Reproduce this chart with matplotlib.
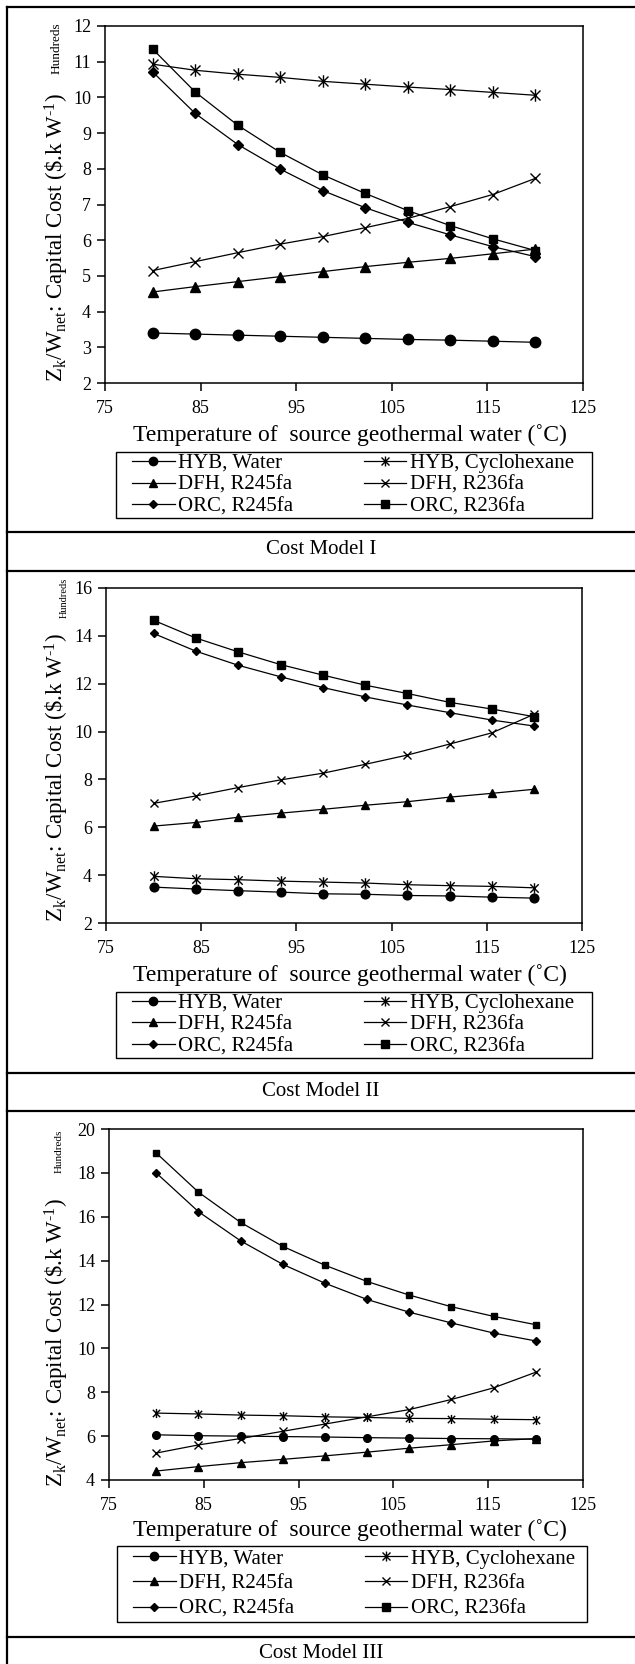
import numpy as np
import matplotlib
matplotlib.use("Agg")
from matplotlib import pyplot as plt
from matplotlib.lines import Line2D
from matplotlib.patches import Rectangle
from matplotlib.path import Path

plt.rcParams["font.family"] = ["Liberation Serif", "DejaVu Serif"]
plt.rcParams["mathtext.fontset"] = "custom"
plt.rcParams["mathtext.rm"] = "Liberation Serif"
plt.rcParams["mathtext.it"] = "Liberation Serif:italic"

# source water temperature (C)
temp = [80, 84.44, 88.89, 93.33, 97.78, 102.22, 106.67, 111.11, 115.56, 120]

labels = ["HYB, Water", "HYB, Cyclohexane", "DFH, R245fa",
          "DFH, R236fa", "ORC, R245fa", "ORC, R236fa"]

# Cost Model I (hundreds $/kW)
m1_hyb_water = [3.40, 3.37, 3.34, 3.31, 3.28, 3.25, 3.22, 3.20, 3.17, 3.14]
m1_hyb_cyclo = [10.93, 10.76, 10.65, 10.56, 10.45, 10.37, 10.29, 10.22, 10.14, 10.06]
m1_dfh_245 = [4.55, 4.70, 4.84, 4.98, 5.12, 5.26, 5.38, 5.49, 5.62, 5.75]
m1_dfh_236 = [5.15, 5.40, 5.65, 5.89, 6.10, 6.35, 6.61, 6.94, 7.28, 7.73]
m1_orc_245 = [10.71, 9.55, 8.68, 7.99, 7.39, 6.91, 6.50, 6.15, 5.82, 5.54]
m1_orc_236 = [11.35, 10.15, 9.22, 8.46, 7.83, 7.31, 6.83, 6.41, 6.04, 5.71]

# Cost Model II
m2_hyb_water = [3.50, 3.42, 3.35, 3.29, 3.22, 3.20, 3.15, 3.13, 3.08, 3.04]
m2_hyb_cyclo = [3.95, 3.85, 3.81, 3.75, 3.71, 3.67, 3.60, 3.56, 3.53, 3.47]
m2_dfh_245 = [6.05, 6.20, 6.42, 6.59, 6.75, 6.92, 7.07, 7.26, 7.42, 7.59]
m2_dfh_236 = [7.00, 7.31, 7.66, 7.98, 8.26, 8.63, 9.02, 9.48, 9.95, 10.73]
m2_orc_245 = [14.10, 13.36, 12.77, 12.29, 11.84, 11.45, 11.11, 10.79, 10.48, 10.23]
m2_orc_236 = [14.65, 13.91, 13.33, 12.80, 12.36, 11.94, 11.59, 11.22, 10.94, 10.62]

# Cost Model III
m3_hyb_water = [6.06, 6.02, 6.00, 5.98, 5.96, 5.93, 5.91, 5.89, 5.88, 5.86]
m3_hyb_cyclo = [7.05, 7.01, 6.96, 6.93, 6.88, 6.85, 6.81, 6.80, 6.77, 6.75]
m3_dfh_245 = [4.41, 4.61, 4.79, 4.94, 5.10, 5.27, 5.45, 5.61, 5.78, 5.89]
m3_dfh_236 = [5.23, 5.60, 5.89, 6.22, 6.55, 6.88, 7.21, 7.67, 8.20, 8.91]
m3_orc_245 = [17.99, 16.23, 14.90, 13.83, 12.97, 12.23, 11.65, 11.16, 10.70, 10.34]
m3_orc_236 = [18.90, 17.12, 15.74, 14.65, 13.79, 13.05, 12.43, 11.90, 11.46, 11.08]

captions = ["Cost Model I", "Cost Model II", "Cost Model III"]
ylims = [(2, 12, 1), (2, 16, 2), (4, 20, 2)]

W, H = 635, 1664


def fx(px):
    return px / W


def fy(py):
    return 1 - py / H


# excel style asterisk: an x with a vertical bar through it
star = Path([(-1, -1), (1, 1), (-1, 1), (1, -1), (0, -1.25), (0, 1.25)],
            [Path.MOVETO, Path.LINETO, Path.MOVETO, Path.LINETO, Path.MOVETO, Path.LINETO])

# marker, size factor
styles = [("o", 1.0), (star, 1.2), ("^", 0.95), ("x", 1.0), ("D", 0.72), ("s", 0.85)]

# pixel layout of each block
layout = [
    dict(ax=(105, 26, 583, 383), xl=435, box=(116, 452, 592, 518), cap=550,
         yl_bot=382, hx=57, hy=22, hfs=9.5, ms=7.5),
    dict(ax=(106, 588, 582, 923), xl=975, box=(116, 992, 592, 1058), cap=1092,
         yl_bot=922, hx=64, hy=578, hfs=7.5, ms=6.3),
    dict(ax=(109, 1129, 583, 1480), xl=1530, box=(117, 1546, 587, 1622), cap=1653,
         yl_bot=1487, hx=59, hy=1130, hfs=8, ms=5.5),
]
hlines = [7, 532, 571, 1073, 1111, 1637]

fig = plt.figure(figsize=(W / 100, H / 100), dpi=100)

data = [
    [m1_hyb_water, m1_hyb_cyclo, m1_dfh_245, m1_dfh_236, m1_orc_245, m1_orc_236],
    [m2_hyb_water, m2_hyb_cyclo, m2_dfh_245, m2_dfh_236, m2_orc_245, m2_orc_236],
    [m3_hyb_water, m3_hyb_cyclo, m3_dfh_245, m3_dfh_236, m3_orc_245, m3_orc_236],
]

ylabel = "Z$_\\mathrm{k}$/W$_\\mathrm{net}$: Capital Cost (\\$.k W$^\\mathrm{\u20101}$)"

for series, lay, cap, (y0, y1, ystep) in zip(data, layout, captions, ylims):
    l, t, r, b = lay["ax"]
    ax = fig.add_axes([fx(l), fy(b), (r - l) / W, (b - t) / H])
    handles = []
    for vals, lab, (mk, sf) in zip(series, labels, styles):
        h, = ax.plot(temp, vals, color="black", lw=0.9, marker=mk,
                     ms=lay["ms"] * sf, mew=1.0, mfc="black", mec="black", label=lab)
        handles.append(h)
    ax.set_xlim(75, 125)
    ax.set_ylim(y0, y1)
    ax.set_xticks(np.arange(75, 126, 10))
    ax.set_yticks(np.arange(y0, y1 + 0.1, ystep))
    ax.tick_params(direction="out", length=6, width=1.1, labelsize=13, top=False, right=False)
    ax.tick_params(axis="x", pad=6)
    ax.tick_params(axis="y", pad=4)
    for s in ax.spines.values():
        s.set_linewidth(1.1)

    fig.text(fx(350), fy(lay["xl"]), "Temperature of  source geothermal water (˚C)",
             ha="center", va="center", fontsize=17)
    fig.text(fx(57), fy(lay["yl_bot"]), ylabel, rotation=90, ha="center", va="bottom", fontsize=16.5)
    fig.text(fx(lay["hx"]), fy(lay["hy"]), "Hundreds", rotation=90, ha="center", va="top",
             fontsize=lay["hfs"])

    # legend frame drawn by hand so the side padding can differ from the top one
    bl, bt, br, bb = lay["box"]
    fig.add_artist(Rectangle((fx(bl), fy(bb)), (br - bl) / W, (bb - bt) / H, fill=False,
                             edgecolor="black", lw=1.0, transform=fig.transFigure))
    order = [0, 2, 4, 1, 3, 5]
    gap = (bb - bt - 3 * 20.8) / 3 / 20.8
    fig.legend([handles[i] for i in order], [labels[i] for i in order],
               loc="center left", bbox_to_anchor=(fx(bl + 16), fy((bt + bb) / 2)),
               ncol=2, fontsize=15, frameon=False,
               handlelength=2.05, handletextpad=0.15, columnspacing=3.4,
               labelspacing=gap + 0.05, borderpad=0, borderaxespad=0,
               markerscale=6.0 / lay["ms"])

    fig.text(fx(321), fy(lay["cap"]), cap, ha="center", va="center", fontsize=15)

# table borders
fig.add_artist(Line2D([fx(7), fx(7)], [fy(7), 0], color="black", lw=1.6, transform=fig.transFigure))
for yy in hlines:
    fig.add_artist(Line2D([fx(7), 1], [fy(yy), fy(yy)], color="black", lw=1.6, transform=fig.transFigure))

fig.savefig("out.png", dpi=100)
